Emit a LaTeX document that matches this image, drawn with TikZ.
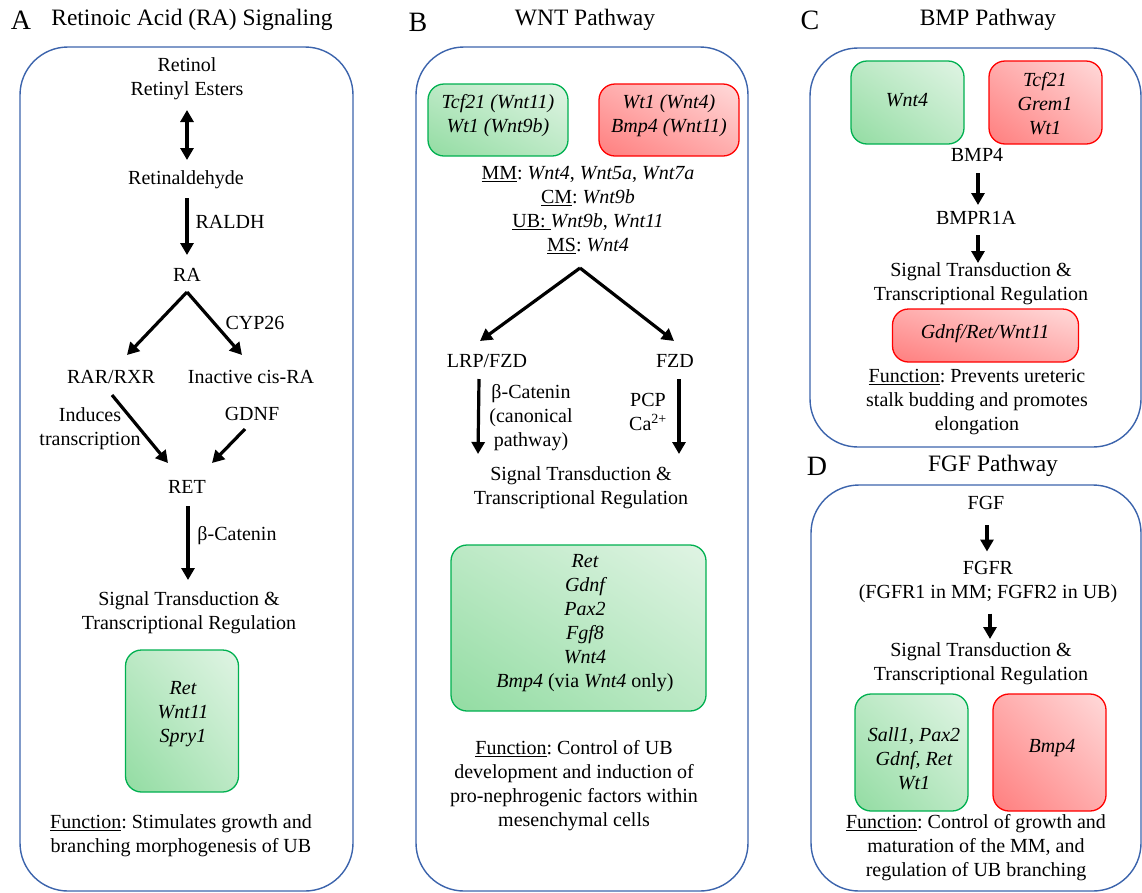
\documentclass[tikz,border=0pt]{standalone}
\usepackage{fontspec}
\setmainfont{Liberation Serif}
\frenchspacing
\definecolor{panelblue}{RGB}{60,100,172}
\definecolor{upgreen}{RGB}{0,176,80}
\definecolor{upgreenlight}{RGB}{224,244,228}
\definecolor{upgreenmid}{RGB}{188,233,197}
\definecolor{upgreendark}{RGB}{146,220,162}
\definecolor{downred}{RGB}{255,0,0}
\definecolor{downredlight}{RGB}{255,218,218}
\definecolor{downredmid}{RGB}{255,172,172}
\definecolor{downreddark}{RGB}{255,126,126}
\usetikzlibrary{calc}
\usetikzlibrary{arrows.meta}
\usetikzlibrary{shadings}
\tikzset{
  txt/.style={inner sep=0pt, align=center, font=\fontsize{20}{24}\selectfont},
  genetext/.style={txt, font=\fontsize{20}{24}\selectfont\itshape},
  paneltitle/.style={inner sep=0pt, font=\fontsize{23.5}{28}\selectfont},
  panelletter/.style={inner sep=0pt, font=\fontsize{28}{32}\selectfont},
  panelbox/.style={draw=panelblue, line width=1.4pt, rounded corners=48pt},
  upbox/.style={draw=upgreen, line width=1.3pt, rounded corners=16pt, lower left=upgreendark,
    upper left=upgreenmid, lower right=upgreenmid, upper right=upgreenlight},
  downbox/.style={draw=downred, line width=1.3pt, rounded corners=16pt, lower left=downreddark,
    upper left=downredmid, lower right=downredmid, upper right=downredlight},
  flow/.style={line width=3.2pt, -{Triangle[length=12pt, width=13pt]}},
  bothflow/.style={line width=3.2pt, {Triangle[length=12pt, width=13pt]}-{Triangle[length=12pt, width=13pt]}},
}
\begin{document}
\begin{tikzpicture}[x=1pt, y=-1pt]
  \useasboundingbox (0,0) rectangle (1142,892);

  % frames
  \draw [panelbox] (20,47) rectangle (353,891);
  \draw [panelbox] (416,47) rectangle (748,891);
  \draw [panelbox] (810,48) rectangle (1141,447);
  \draw [panelbox] (811,485) rectangle (1141,891);

  % A: retinoic acid
  \node [panelletter] (letterA) at (21,20) {A};
  \node [paneltitle] (titleA) at (192,20) {Retinoic Acid (RA) Signaling};
  \node [txt] (retinol) at (187,79) {Retinol\\Retinyl Esters};
  \node [txt] (retinal) at (186,180) {Retinaldehyde};
  \node [txt] (ra) at (187,275) {RA};
  \node [txt] (rar) at (111,377) {RAR/RXR};
  \node [txt] (inactive) at (251,377) {Inactive cis-RA};
  \node [txt] (induces) at (90,429) {Induces\\transcription};
  \node [txt] (gdnf) at (252,414) {GDNF};
  \node [txt] (ret) at (187,487) {RET};
  \node [txt] (sigA) at (189,613) {Signal Transduction \&\\Transcriptional Regulation};
  \node [txt] (raldh) at (230,222) {RALDH};
  \node [txt] (cyp) at (255,323) {CYP26};
  \node [txt] (bcatA) at (237,536) {β-Catenin};
  \node [upbox, minimum width=113pt, minimum height=142pt] (geneA) at (182,721) {};
  \node [genetext] (geneAtext) at (183,714) {Ret\\Wnt11\\Spry1};
  \node [txt] (funcA) at (181,836) {\underline{Function}: Stimulates growth and\\branching morphogenesis of UB};

  \draw [bothflow] ($(retinol)+(0,31)$) -- ($(retinal)+(1,-20)$);
  \draw [flow] ($(retinal)+(1,18)$) -- ($(ra)+(0,-20)$);
  \draw [flow] ($(ra)+(0,17)$) -- ($(rar)+(16,-22)$);
  \draw [flow] ($(ra)+(0,17)$) -- ($(inactive)+(-9,-22)$);
  \draw [flow] ($(rar)+(1,18)$) -- ($(ret)+(-19,-24)$);
  \draw [flow] ($(gdnf)+(-7,15)$) -- ($(ret)+(25,-24)$);
  \draw [flow] ($(ret)+(1,19)$) -- ($(sigA)+(-1,-33)$);

  % B: wnt
  \node [panelletter] (letterB) at (418,22) {B};
  \node [paneltitle] (titleB) at (585,20) {WNT Pathway};
  \node [upbox, minimum width=140pt, minimum height=72pt] (upB) at (498,120) {};
  \node [genetext] (upBtext) at (498,116) {Tcf21 (Wnt11)\\Wt1 (Wnt9b)};
  \node [downbox, minimum width=140pt, minimum height=72pt] (downB) at (669,120) {};
  \node [genetext] (downBtext) at (669,116) {Wt1 (Wnt4)\\Bmp4 (Wnt11)};
  \node [txt] (wnts) at (588,210) {\underline{MM}: \textit{Wnt4}, \textit{Wnt5a}, \textit{Wnt7a}\\
    \underline{CM}: \textit{Wnt9b}\\\underline{UB:\ }\textit{Wnt9b}, \textit{Wnt11}\\\underline{MS}: \textit{Wnt4}};
  \node [txt] (lrp) at (487,361) {LRP/FZD};
  \node [txt] (fzd) at (675,361) {FZD};
  \node [txt] (bcatB) at (531,418) {β-Catenin\\(canonical\\pathway)};
  \node [txt] (pcp) at (648,412) {PCP\\Ca\textsuperscript{2+}};
  \node [txt] (sigB) at (581,488) {Signal Transduction \&\\Transcriptional Regulation};
  \node [upbox, minimum width=255pt, minimum height=166pt] (geneB) at (578.5,628) {};
  \node [genetext] (geneBtext) at (585,623) {Ret\\Gdnf\\Pax2\\Fgf8\\Wnt4\\Bmp4 \textup{(via} Wnt4 \textup{only)}};
  \node [txt] (funcB) at (574,786) {\underline{Function}: Control of UB\\development and induction of\\
    pro-nephrogenic factors within\\mesenchymal cells};

  \draw [flow] ($(wnts)+(-8,58)$) -- ($(lrp)+(-7,-20)$);
  \draw [flow] ($(wnts)+(-8,58)$) -- ($(fzd)+(-1,-20)$);
  \draw [flow] ($(lrp)+(-8,18)$) -- ($(sigB)+(-103,-34)$);
  \draw [flow] ($(fzd)+(4,18)$) -- ($(sigB)+(98,-34)$);

  % C: bmp
  \node [panelletter] (letterC) at (810,20) {C};
  \node [paneltitle] (titleC) at (988,20) {BMP Pathway};
  \node [upbox, minimum width=113pt, minimum height=83pt] (upC) at (907.5,102.5) {};
  \node [genetext] (upCtext) at (907,100) {Wnt4};
  \node [downbox, minimum width=113pt, minimum height=83pt] (downC) at (1045.5,102.5) {};
  \node [genetext] (downCtext) at (1045,104) {Tcf21\\Grem1\\Wt1};
  \node [txt] (bmp) at (977,155) {BMP4};
  \node [txt] (bmpr) at (976,218) {BMPR1A};
  \node [txt] (sigC) at (981,284) {Signal Transduction \&\\Transcriptional Regulation};
  \node [downbox, minimum width=186pt, minimum height=53pt] (geneC) at (985.5,335.5) {};
  \node [genetext] (geneCtext) at (985,334) {Gdnf/Ret/Wnt11};
  \node [txt] (funcC) at (977,402) {\underline{Function}: Prevents ureteric\\stalk budding and promotes\\elongation};

  \draw [flow] ($(bmp)+(1,18)$) -- ($(bmpr)+(2,-13)$);
  \draw [flow] ($(bmpr)+(2,17)$) -- ($(sigC)+(-3,-21)$);

  % D: fgf
  \node [panelletter] (letterD) at (817,466) {D};
  \node [paneltitle] (titleD) at (993,466) {FGF Pathway};
  \node [txt] (fgf) at (986,503) {FGF};
  \node [txt] (fgfr) at (988,581.5) {FGFR\\(FGFR1 in MM; FGFR2 in UB)};
  \node [txt] (sigD) at (981,664) {Signal Transduction \&\\Transcriptional Regulation};
  \node [upbox, minimum width=113pt, minimum height=117pt] (upD) at (911.5,752.5) {};
  \node [genetext] (upDtext) at (914,759) {Sall1, Pax2\\Gdnf, Ret\\Wt1};
  \node [downbox, minimum width=113pt, minimum height=117pt] (downD) at (1049.5,752.5) {};
  \node [genetext] (downDtext) at (1052,748) {Bmp4};
  \node [txt] (funcD) at (976,848) {\underline{Function}: Control of growth and\\maturation of the MM, and\\
    regulation of UB branching};

  \draw [flow] ($(fgf)+(1,22)$) -- ($(fgfr)+(-1,-30)$);
  \draw [flow] ($(fgfr)+(2,32)$) -- ($(sigD)+(9,-25)$);

\end{tikzpicture}
\end{document}
